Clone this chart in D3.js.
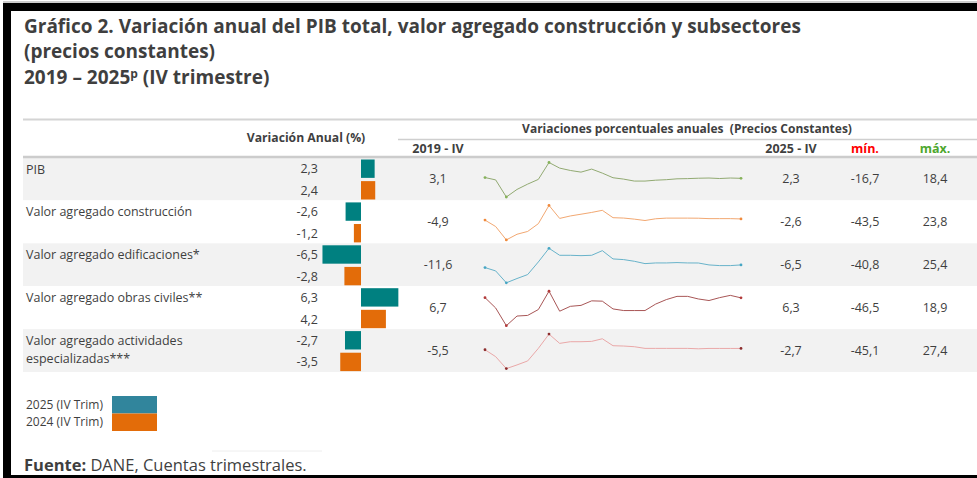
<!DOCTYPE html>
<html>
<head>
<meta charset="utf-8">
<script src="https://cdn.jsdelivr.net/npm/d3@7"></script>
<style>
body { margin: 0; background: #fff; }
text { font-family: "Open Sans", "Noto Sans", sans-serif; fill: #3f3f3f; }
</style>
</head>
<body>
<div id="run"></div>
<script>
var width = 977,
    height = 478;

// datos
var categories = ["PIB", "Valor agregado construcción", "Valor agregado edificaciones*",
    "Valor agregado obras civiles**", "Valor agregado actividades\nespecializadas***"];
var var2025 = [2.3, -2.6, -6.5, 6.3, -2.7];
var var2024 = [2.4, -1.2, -2.8, 4.2, -3.5];
var start2019 = [3.1, -4.9, -11.6, 6.7, -5.5];
var end2025 = [2.3, -2.6, -6.5, 6.3, -2.7];
var minVals = [-16.7, -43.5, -40.8, -46.5, -45.1];
var maxVals = [18.4, 23.8, 25.4, 18.9, 27.4];
var quarters = ["2019-IV",
    "2020-I", "2020-II", "2020-III", "2020-IV",
    "2021-I", "2021-II", "2021-III", "2021-IV",
    "2022-I", "2022-II", "2022-III", "2022-IV",
    "2023-I", "2023-II", "2023-III", "2023-IV",
    "2024-I", "2024-II", "2024-III", "2024-IV",
    "2025-I", "2025-II", "2025-III", "2025-IV"];
var sparkPIB = [3.1, 0.7, -16.7, -9.0, -3.6, 1.2, 18.4, 12.7, 10.3, 8.6, 11.7, 7.6, 2.9,
    1.5, -0.5, -0.5, 0.4, 0.9, 1.8, 2.0, 2.4, 2.6, 2.1, 2.6, 2.3];
var sparkConstruccion = [-4.9, -17.4, -43.5, -32.5, -27.0, -11.9, 23.8, -1.6, 3.2, 6.6, 10.1, 14.2, -0.2,
    -0.9, -3.0, -5.7, -2.3, -1.0, -1.0, -1.0, -1.2, -2.0, -2.0, -2.0, -2.6];
var sparkEdificaciones = [-11.6, -18.0, -40.8, -32.6, -25.0, -0.8, 25.4, 12.0, 12.0, 11.3, 12.0, 20.9, 5.0,
    3.7, 0.5, -4.0, -2.7, -2.7, -2.0, -2.7, -2.8, -6.5, -7.8, -7.8, -6.5];
var sparkObras = [6.7, -12.9, -46.5, -28.2, -27.0, -15.9, 18.9, -19.0, -9.8, -8.0, 0.6, 0.0, -14.7,
    -17.8, -17.8, -17.8, -5.5, 3.0, 9.1, 9.1, 4.2, 1.2, 6.7, 11.0, 6.3];
var sparkActividades = [-5.5, -20.0, -45.1, -37.4, -29.0, -2.6, 27.4, 7.9, 11.4, 11.4, 12.1, 17.6, 3.0,
    2.3, 0.9, -2.6, -2.6, -2.6, -2.6, -2.6, -3.5, -2.7, -2.7, -2.7, -2.7];
var sparks = [sparkPIB, sparkConstruccion, sparkEdificaciones, sparkObras, sparkActividades];
var legendLabels = ["2025 (IV Trim)", "2024 (IV Trim)"];

var sparkColors = ["#92aa72", "#f2a872", "#68b3ca", "#a85656", "#eaa8a8"];
var markColors = ["#86b25a", "#f08a3c", "#46a6c4", "#b23a3a", "#8c2c2c"];

var svg = d3.select("#run").append("svg")
    .attr("width", width)
    .attr("height", height);

svg.append("rect")
    .attr("width", width)
    .attr("height", height)
    .attr("fill", "#fff");

// marco negro
svg.append("rect").attr("x", 3).attr("y", 3).attr("width", width - 3).attr("height", 8).attr("fill", "#000");
svg.append("rect").attr("x", 3).attr("y", 3).attr("width", 8).attr("height", height - 3).attr("fill", "#000");
svg.append("rect").attr("x", 3).attr("y", 475).attr("width", width - 3).attr("height", 3).attr("fill", "#000");
svg.append("line").attr("x1", 3).attr("x2", width).attr("y1", 2).attr("y2", 2)
    .attr("stroke", "#999").attr("stroke-width", 1);

// titulo
var title = svg.append("text")
    .attr("x", 24)
    .attr("y", 33)
    .style("font-size", "19px")
    .style("font-weight", "bold");
title.append("tspan").text("Gráfico 2. Variación anual del PIB total, valor agregado construcción y subsectores");
title.append("tspan").attr("x", 24).attr("dy", 25).text("(precios constantes)");
title.append("tspan").attr("x", 24).attr("dy", 26).text("2019 – 2025");
title.append("tspan").attr("dy", -6).style("font-size", "12px").text("p");
title.append("tspan").attr("dy", 6).text(" (IV trimestre)");

// filas
var rowTop = d3.scaleBand()
    .domain(d3.range(categories.length))
    .range([157.5, 372]);

svg.selectAll(".rowbg")
    .data(categories)
    .enter().append("rect")
    .attr("x", 23)
    .attr("y", function(d, i) { return rowTop(i); })
    .attr("width", width - 23)
    .attr("height", rowTop.bandwidth())
    .attr("fill", function(d, i) { return i % 2 == 0 ? "#f2f2f2" : "#fff"; });

// lineas de encabezado
svg.append("line").attr("x1", 23).attr("x2", width).attr("y1", 119.5).attr("y2", 119.5)
    .attr("stroke", "#d4d4d4").attr("stroke-width", 2);
svg.append("line").attr("x1", 398).attr("x2", width).attr("y1", 139.5).attr("y2", 139.5)
    .attr("stroke", "#cfcfcf").attr("stroke-width", 1.5);
svg.append("line").attr("x1", 23).attr("x2", width).attr("y1", 157).attr("y2", 157)
    .attr("stroke", "#cccccc").attr("stroke-width", 2.5);

svg.append("text")
    .attr("x", 306).attr("y", 142)
    .attr("text-anchor", "middle")
    .style("font-size", "12.2px").style("font-weight", "bold")
    .text("Variación Anual (%)");
svg.append("text")
    .attr("x", 687).attr("y", 133)
    .attr("text-anchor", "middle")
    .style("font-size", "12px").style("font-weight", "bold")
    .style("white-space", "pre")
    .text("Variaciones porcentuales anuales  (Precios Constantes)");

var colX = { start: 438, end: 791, min: 865, max: 935 };
var heads = [
    { x: colX.start, t: "2019 - IV", c: "#3f3f3f" },
    { x: colX.end, t: "2025 - IV", c: "#3f3f3f" },
    { x: colX.min, t: "mín.", c: "#ff0000" },
    { x: colX.max, t: "máx.", c: "#4ea72e" }
];
svg.selectAll(".head")
    .data(heads)
    .enter().append("text")
    .attr("x", function(d) { return d.x; })
    .attr("y", 153)
    .attr("text-anchor", "middle")
    .style("font-size", "12.5px").style("font-weight", "bold")
    .style("fill", function(d) { return d.c; })
    .text(function(d) { return d.t; });

// etiquetas
categories.forEach(function(c, i) {
    var t = svg.append("text")
        .attr("x", 26)
        .attr("y", rowTop(i) + 16)
        .style("font-size", "12.5px");
    c.split("\n").forEach(function(line, j) {
        t.append("tspan").attr("x", 26).attr("dy", j == 0 ? 0 : 18).text(line);
    });
});

// barras
var fmt = function(v) { return d3.format(".1f")(v).replace(".", ",").replace("−", "-"); };
var x = d3.scaleLinear().domain([-7, 7]).range([361 - 41.5, 361 + 41.5]);
var years = ["2025", "2024"];
var barColors = { "2025": "#008080", "2024": "#e36c09" };

categories.forEach(function(c, i) {
    var y = d3.scaleBand()
        .domain(years)
        .range([rowTop(i) + 2, rowTop(i) + 42])
        .paddingInner(0.15);
    var vals = { "2025": var2025[i], "2024": var2024[i] };
    years.forEach(function(yr) {
        var v = vals[yr];
        svg.append("rect")
            .attr("x", x(Math.min(0, v)))
            .attr("y", y(yr))
            .attr("width", Math.abs(x(v) - x(0)))
            .attr("height", y.bandwidth())
            .attr("fill", barColors[yr]);
        svg.append("text")
            .attr("x", 318)
            .attr("y", y(yr) + y.bandwidth() / 2 + 4.5)
            .attr("text-anchor", "end")
            .style("font-size", "12.5px")
            .text(fmt(v));
    });
});

// columnas numericas
var numCols = [[start2019, colX.start], [end2025, colX.end], [minVals, colX.min], [maxVals, colX.max]];
numCols.forEach(function(col) {
    svg.selectAll(null)
        .data(col[0])
        .enter().append("text")
        .attr("x", col[1])
        .attr("y", function(d, i) { return rowTop(i) + rowTop.bandwidth() / 2 + 4.5; })
        .attr("text-anchor", "middle")
        .style("font-size", "12.5px")
        .text(fmt);
});

// minigraficos
var sx = d3.scalePoint().domain(quarters).range([485, 741]);
sparks.forEach(function(s, i) {
    var sy = d3.scaleLinear().domain(d3.extent(s)).range([rowTop(i) + 39.5, rowTop(i) + 5]);
    var line = d3.line()
        .x(function(d, j) { return sx(quarters[j]); })
        .y(function(d) { return sy(d); });
    svg.append("path")
        .datum(s)
        .attr("d", line)
        .attr("fill", "none")
        .attr("stroke", sparkColors[i])
        .attr("stroke-width", 1);
    var lo = d3.minIndex(s), hi = d3.maxIndex(s);
    var marks = [0, lo, hi, s.length - 1];
    svg.selectAll(null)
        .data(marks)
        .enter().append("circle")
        .attr("cx", function(j) { return sx(quarters[j]); })
        .attr("cy", function(j) { return sy(s[j]); })
        .attr("r", 1.4)
        .attr("fill", markColors[i]);
});

// leyenda
var ly = d3.scaleBand().domain(legendLabels).range([396, 431]);
svg.selectAll(".legbox")
    .data(legendLabels)
    .enter().append("rect")
    .attr("x", 112)
    .attr("y", function(d) { return ly(d); })
    .attr("width", 45)
    .attr("height", ly.bandwidth())
    .attr("fill", function(d, i) { return i == 0 ? "#31859c" : "#e36c09"; });
svg.selectAll(".legtxt")
    .data(legendLabels)
    .enter().append("text")
    .attr("x", 26)
    .attr("y", function(d) { return ly(d) + ly.bandwidth() / 2 + 4; })
    .style("font-size", "12px")
    .text(function(d) { return d; });

svg.append("line").attr("x1", 212).attr("x2", 322).attr("y1", 451).attr("y2", 451)
    .attr("stroke", "#eeeeee").attr("stroke-width", 1);

// fuente
var src = svg.append("text")
    .attr("x", 24)
    .attr("y", 471)
    .style("font-size", "16.5px");
src.append("tspan").style("font-weight", "bold").text("Fuente:");
src.append("tspan").text(" DANE, Cuentas trimestrales.");
</script>
</body>
</html>
